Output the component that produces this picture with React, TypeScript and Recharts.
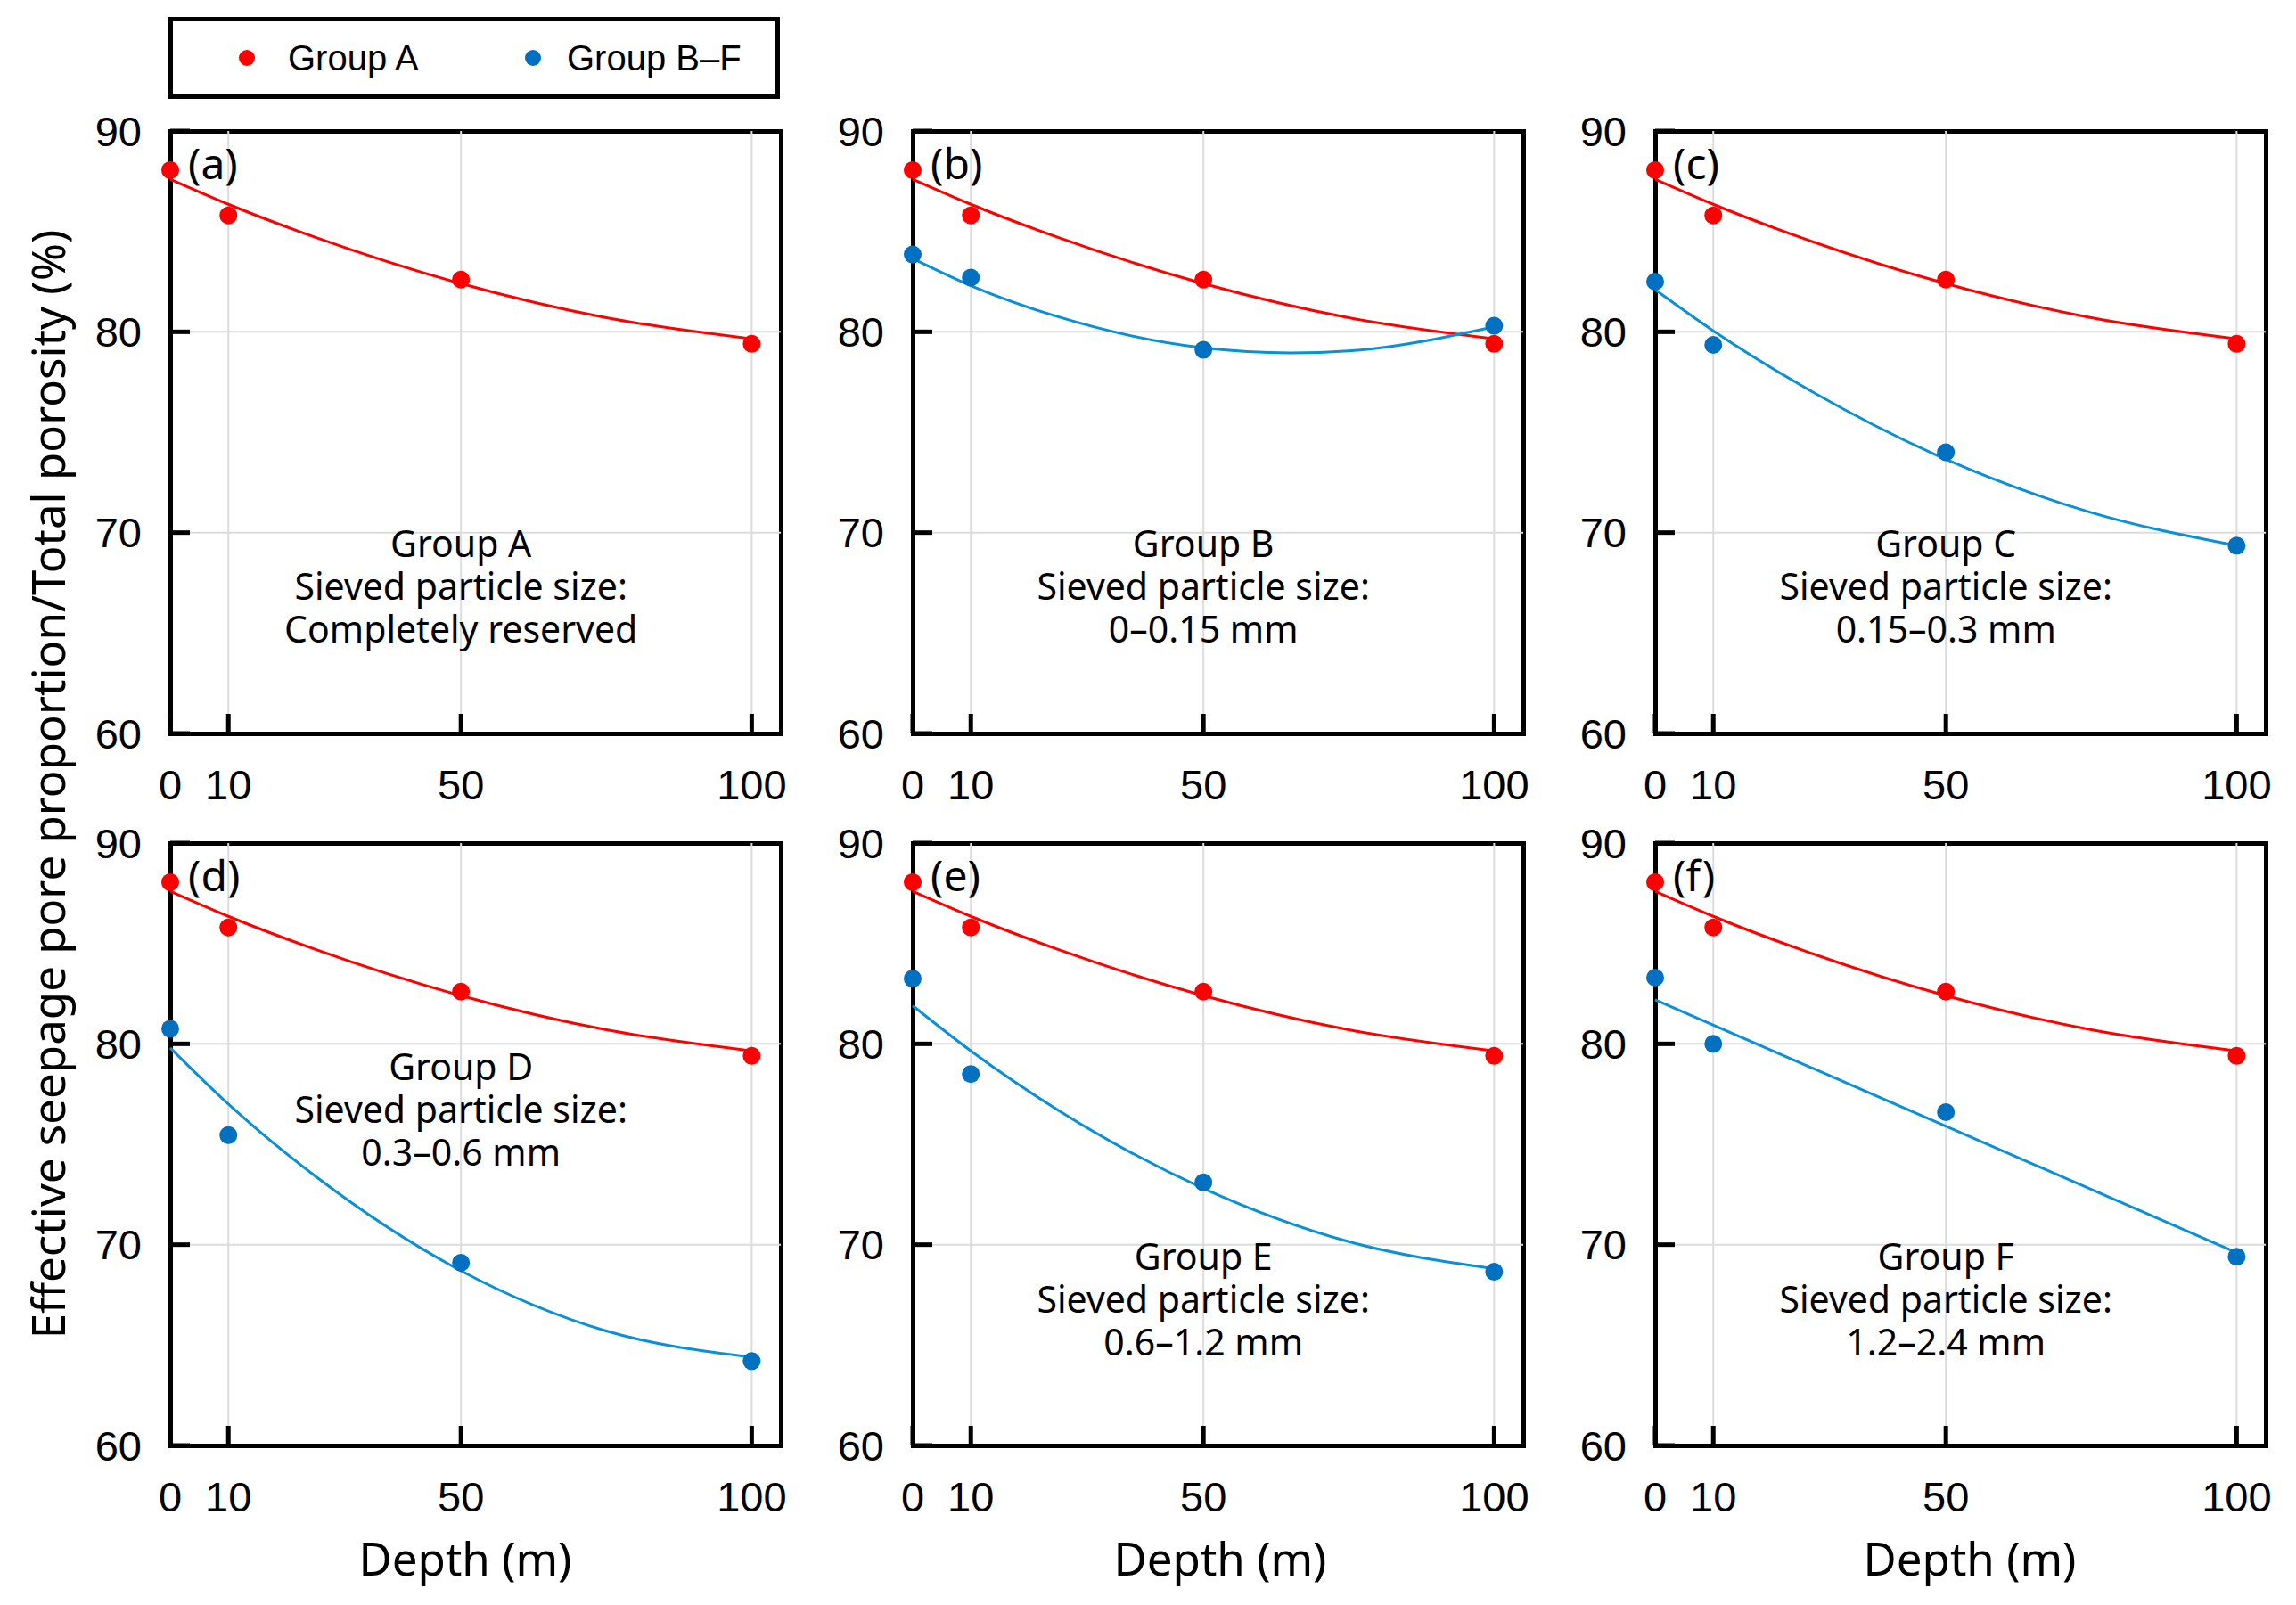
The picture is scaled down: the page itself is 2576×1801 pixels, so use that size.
import React from "react";
import { ComposedChart, Line, Scatter, XAxis, YAxis, CartesianGrid } from "recharts";

// depth (m) of the four sampling points
const depths = [0, 10, 50, 100];

const groupA = [88.05, 85.8, 82.6, 79.4];
const groupB = [83.85, 82.7, 79.1, 80.3];
const groupC = [82.5, 79.35, 74.0, 69.35];
const groupD = [80.75, 75.45, 69.1, 64.2];
const groupE = [83.25, 78.5, 73.1, 68.65];
const groupF = [83.3, 80.0, 76.6, 69.4];

// fitted trend lines
const fitX = [0, 10, 25, 50, 75, 100];
const fitA = [87.6, 86.35, 84.7, 82.4, 80.7, 79.65];
const fitBX = [0, 10, 25, 50, 65, 75, 100];
const fitB = [83.65, 82.3, 80.75, 79.2, 78.95, 79.05, 80.25];
const fitC = [82.1, 80.05, 77.35, 73.65, 71.0, 69.35];
const fitD = [79.8, 77.0, 73.4, 68.7, 65.7, 64.4];
const fitE = [81.9, 79.65, 76.7, 72.8, 70.15, 68.8];
const fitFX = [0, 100];
const fitF = [82.2, 69.6];

const xTicks = [0, 10, 50, 100];
const yTicks = [60, 70, 80, 90];

const RED = "#ff0000";
const BLUE_DOT = "#0070c0";
const BLUE_LINE = "#0a90d6";
const TICK_FONT = "'Liberation Sans', Arial, sans-serif";
const TEXT_FONT = "'Noto Sans', 'Open Sans', sans-serif";

const PW = 685;
const PH = 676;
const COLS = [191, 1024, 1857];
const ROWS = [147, 946];

const pts = (xs: number[], ys: number[]) => xs.map((x, i) => ({ x, y: ys[i] }));

const panels = [
  { label: "(a)", lines: ["Group A", "Sieved particle size:", "Completely reserved"], textTop: 462, blue: null, fitBlue: null },
  { label: "(b)", lines: ["Group B", "Sieved particle size:", "0–0.15 mm"], textTop: 462, blue: groupB, fitBlue: pts(fitBX, fitB) },
  { label: "(c)", lines: ["Group C", "Sieved particle size:", "0.15–0.3 mm"], textTop: 462, blue: groupC, fitBlue: pts(fitX, fitC) },
  { label: "(d)", lines: ["Group D", "Sieved particle size:", "0.3–0.6 mm"], textTop: 250, blue: groupD, fitBlue: pts(fitX, fitD) },
  { label: "(e)", lines: ["Group E", "Sieved particle size:", "0.6–1.2 mm"], textTop: 463, blue: groupE, fitBlue: pts(fitX, fitE) },
  { label: "(f)", lines: ["Group F", "Sieved particle size:", "1.2–2.4 mm"], textTop: 463, blue: groupF, fitBlue: pts(fitFX, fitF) },
];

function XTick(props: any) {
  const { x, y, payload } = props;
  return (
    <g>
      <line x1={x} y1={y} x2={x} y2={y - 22} stroke="#000" strokeWidth={5} />
      <text x={x} y={y + 57} textAnchor="middle" dominantBaseline="central" fontFamily={TICK_FONT} fontSize={47} fill="#000">
        {payload.value}
      </text>
    </g>
  );
}

function YTick(props: any) {
  const { x, y, payload } = props;
  return (
    <g>
      <line x1={x} y1={y} x2={x + 22} y2={y} stroke="#000" strokeWidth={5} />
      <text x={x - 32} y={y} textAnchor="end" dominantBaseline="central" fontFamily={TICK_FONT} fontSize={47} fill="#000">
        {payload.value}
      </text>
    </g>
  );
}

const dot = (color: string) => (p: any) => <circle cx={p.cx} cy={p.cy} r={10} fill={color} />;

function Panel({ left, top, cfg }: any) {
  const textX = left + (50 / 105) * PW;
  return (
    <>
      <div
        style={{
          position: "absolute",
          left: left - 2.5,
          top: top - 2.5,
          width: PW + 5,
          height: PH + 5,
          border: "5px solid #000",
          boxSizing: "border-box",
        }}
      />
      <div style={{ position: "absolute", left: left - 120, top: top - 30 }}>
        <ComposedChart width={120 + PW + 30} height={30 + PH + 110} margin={{ top: 30, right: 30, left: 0, bottom: 0 }}>
          <CartesianGrid stroke="#dcdcdc" strokeWidth={2} horizontalValues={[70, 80]} verticalValues={[10, 50, 100]} />
          <XAxis
            type="number"
            dataKey="x"
            domain={[0, 105]}
            ticks={xTicks}
            interval={0}
            height={110}
            axisLine={false}
            tickLine={false}
            tickSize={0}
            tickMargin={0}
            tick={<XTick />}
          />
          <YAxis
            type="number"
            dataKey="y"
            domain={[60, 90]}
            ticks={yTicks}
            interval={0}
            width={120}
            axisLine={false}
            tickLine={false}
            tickSize={0}
            tickMargin={0}
            tick={<YTick />}
          />
          <Line data={pts(fitX, fitA)} dataKey="y" type="monotoneX" stroke={RED} strokeWidth={3} dot={false} activeDot={false} isAnimationActive={false} />
          {cfg.fitBlue && (
            <Line data={cfg.fitBlue} dataKey="y" type="monotoneX" stroke={BLUE_LINE} strokeWidth={3} dot={false} activeDot={false} isAnimationActive={false} />
          )}
          {cfg.blue && <Scatter data={pts(depths, cfg.blue)} shape={dot(BLUE_DOT)} isAnimationActive={false} />}
          <Scatter data={pts(depths, groupA)} shape={dot(RED)} isAnimationActive={false} />
        </ComposedChart>
      </div>
      <div
        style={{
          position: "absolute",
          left: left + 20,
          top: top + 36,
          transform: "translateY(-50%)",
          fontFamily: TEXT_FONT,
          fontSize: 48,
          lineHeight: 1,
          whiteSpace: "nowrap",
        }}
      >
        {cfg.label}
      </div>
      <div
        style={{
          position: "absolute",
          left: textX,
          top: top + cfg.textTop - 24,
          transform: "translateX(-50%)",
          fontFamily: TEXT_FONT,
          fontSize: 41,
          lineHeight: "48px",
          textAlign: "center",
          whiteSpace: "nowrap",
        }}
      >
        {cfg.lines.map((t: string, i: number) => (
          <React.Fragment key={t}>
            {i > 0 && <br />}
            {t}
          </React.Fragment>
        ))}
      </div>
    </>
  );
}

export default function App() {
  return (
    <div style={{ position: "absolute", left: 0, top: 0, width: 2576, height: 1801, background: "#fff", color: "#000", overflow: "hidden" }}>
      {/* legend */}
      <div
        style={{
          position: "absolute",
          left: 189,
          top: 19,
          width: 686,
          height: 92,
          border: "5px solid #000",
          boxSizing: "border-box",
        }}
      />
      <div style={{ position: "absolute", left: 277 - 9, top: 65 - 9, width: 18, height: 18, borderRadius: "50%", background: RED }} />
      <div style={{ position: "absolute", left: 323, top: 65, transform: "translateY(-50%)", fontFamily: TICK_FONT, fontSize: 40, lineHeight: 1, whiteSpace: "nowrap" }}>
        Group A
      </div>
      <div style={{ position: "absolute", left: 598 - 9, top: 65 - 9, width: 18, height: 18, borderRadius: "50%", background: BLUE_DOT }} />
      <div style={{ position: "absolute", left: 636, top: 65, transform: "translateY(-50%)", fontFamily: TICK_FONT, fontSize: 40, lineHeight: 1, whiteSpace: "nowrap" }}>
        Group B–F
      </div>

      {panels.map((cfg, i) => (
        <Panel key={cfg.label} cfg={cfg} left={COLS[i % 3]} top={ROWS[Math.floor(i / 3)]} />
      ))}

      {/* axis titles */}
      <div
        style={{
          position: "absolute",
          left: 53,
          top: 880,
          transform: "translate(-50%, -50%) rotate(-90deg)",
          fontFamily: TEXT_FONT,
          fontSize: 51,
          lineHeight: 1,
          whiteSpace: "nowrap",
        }}
      >
        Effective seepage pore proportion/Total porosity (%)
      </div>
      {[522, 1369, 2210].map((cx) => (
        <div
          key={cx}
          style={{
            position: "absolute",
            left: cx,
            top: 1748,
            transform: "translate(-50%, -50%)",
            fontFamily: TEXT_FONT,
            fontSize: 51,
            lineHeight: 1,
            whiteSpace: "nowrap",
          }}
        >
          Depth (m)
        </div>
      ))}
    </div>
  );
}
